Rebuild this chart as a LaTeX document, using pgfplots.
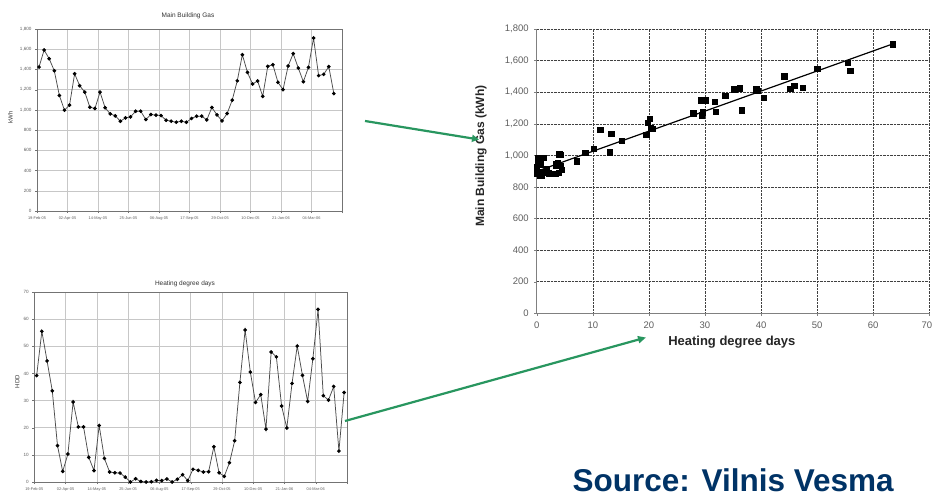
\documentclass[border=0pt]{standalone}
\usepackage{fontspec}
\setmainfont{Liberation Sans}
\usepackage{pgfplots}
\usepackage{pgfplotstable}
\pgfplotsset{compat=1.18}
\usetikzlibrary{arrows.meta}
\definecolor{arrowgreen}{RGB}{40,150,95}
\definecolor{srcblue}{RGB}{0,51,102}
\definecolor{lblgray}{RGB}{95,95,95}

\pgfplotstableread{
x y
0.4 1424
1.4 1592
2.4 1506
3.4 1387
4.4 1143
5.4 997
6.4 1047
7.4 1357
8.4 1239
9.4 1176
10.4 1027
11.4 1014
12.4 1176
13.4 1021
14.4 961
15.4 941
16.4 888
17.4 921
18.4 931
19.4 987
20.4 987
21.4 905
22.4 954
23.4 948
24.4 944
25.4 898
26.4 888
27.4 878
28.4 888
29.4 878
30.4 915
31.4 938
32.4 938
33.4 901
34.4 1024
35.4 951
36.4 891
37.4 964
38.4 1096
39.4 1288
40.4 1546
41.4 1371
42.4 1256
43.4 1286
44.4 1134
45.4 1431
46.4 1447
47.4 1273
48.4 1200
49.4 1434
50.4 1556
51.4 1414
52.4 1279
53.4 1421
54.4 1711
55.4 1339
56.4 1352
57.4 1428
58.4 1161
}\gasdata

\pgfplotstableread{
x y
0.45 39.2
1.45 55.5
2.45 44.6
3.45 33.6
4.45 13.4
5.45 3.9
6.45 10.3
7.45 29.5
8.45 20.3
9.45 20.3
10.45 9.1
11.45 4.2
12.45 20.8
13.45 8.7
14.45 3.7
15.45 3.4
16.45 3.3
17.45 1.8
18.45 0
19.45 1.2
20.45 0.2
21.45 0
22.45 0.1
23.45 0.6
24.45 0.5
25.45 1.1
26.45 0
27.45 1.0
28.45 2.7
29.45 0.5
30.45 4.7
31.45 4.3
32.45 3.7
33.45 3.8
34.45 13.0
35.45 3.4
36.45 2.1
37.45 7.1
38.45 15.2
39.45 36.7
40.45 56.0
41.45 40.5
42.45 29.3
43.45 32.2
44.45 19.5
45.45 47.9
46.45 46.1
47.45 28.0
48.45 19.9
49.45 36.3
50.45 50.1
51.45 39.3
52.45 29.7
53.45 45.4
54.45 63.6
55.45 31.8
56.45 30.2
57.45 35.2
58.45 11.4
59.45 33.0
}\hdddata

\pgfplotstableread{
x y
39.1 1418
55.5 1586
44.1 1500
33.6 1376
13.3 1137
4.2 1004
10.2 1042
29.2 1350
20.1 1232
20.3 1172
8.7 1017
4.0 1008
20.6 1169
8.6 1015
3.7 955
3.4 936
3.3 884
1.8 916
0.0 926
1.3 984
0.2 981
0.0 900
0.3 939
0.6 944
0.5 940
1.1 893
0.0 884
0.8 874
2.7 884
0.5 874
4.5 911
4.3 933
3.7 933
3.9 892
13.0 1019
3.4 947
2.1 887
7.1 962
15.2 1091
36.5 1287
55.9 1536
40.5 1365
29.4 1255
31.9 1278
19.5 1131
47.4 1430
45.9 1441
27.9 1266
19.8 1205
36.2 1426
50.0 1549
39.3 1410
29.6 1272
45.2 1422
63.5 1705
31.7 1338
30.1 1350
35.2 1420
11.3 1162
}\scatterdata

\begin{document}
\begin{tikzpicture}
\useasboundingbox (0pt,0pt) rectangle (933pt,496pt);
\fill[white] (0pt,0pt) rectangle (933pt,496pt);

% ---------- Main Building Gas (top left) ----------
\begin{axis}[
  at={(37pt,285pt)}, anchor=south west, scale only axis,
  width=305pt, height=182pt,
  xmin=0, xmax=60, ymin=0, ymax=1800,
  xtick={0,6,...,60},
  xticklabels={19-Feb-05,02-Apr-05,14-May-05,25-Jun-05,06-Aug-05,17-Sep-05,29-Oct-05,10-Dec-05,21-Jan-06,04-Mar-06,{}},
  ytick={0,200,...,1800},
  grid=major, grid style={black!22, line width=0.5pt},
  axis line style={black!55, line width=0.5pt},
  tick style={black!55}, tick align=outside, major tick length=2pt, tick pos=left,
  xticklabel style={font=\fontsize{3.9}{4}\selectfont, text=lblgray, yshift=0pt},
  yticklabel style={font=\fontsize{4.6}{5}\selectfont, text=lblgray, xshift=0pt},
  scaled y ticks=false,
  /pgf/number format/assume math mode=true,
  /pgf/number format/1000 sep={,},
  title={Main Building Gas},
  title style={font=\fontsize{6.5}{7}\selectfont, text=black!80, at={(axis description cs:0.495,1.04)}, anchor=center},
  ylabel={kWh},
  ylabel style={font=\fontsize{6}{7}\selectfont, text=black!80, at={(axis description cs:-0.087,0.516)}, anchor=center},
]
\addplot[black!70, line width=0.75pt, mark=*, mark size=1.45pt, mark options={fill=black, draw=black}] table[x=x,y=y] {\gasdata};
\end{axis}

% ---------- Heating degree days (bottom left) ----------
\begin{axis}[
  at={(34.3pt,14pt)}, anchor=south west, scale only axis,
  width=312.7pt, height=190pt,
  xmin=0, xmax=60, ymin=0, ymax=70,
  xtick={0,6,...,60},
  xticklabels={19-Feb-05,02-Apr-05,14-May-05,25-Jun-05,06-Aug-05,17-Sep-05,29-Oct-05,10-Dec-05,21-Jan-06,04-Mar-06,{}},
  ytick={0,10,...,70},
  grid=major, grid style={black!22, line width=0.5pt},
  axis line style={black!55, line width=0.5pt},
  tick style={black!55}, tick align=outside, major tick length=2pt, tick pos=left,
  xticklabel style={font=\fontsize{3.9}{4}\selectfont, text=lblgray, yshift=0pt},
  yticklabel style={font=\fontsize{4.6}{5}\selectfont, text=lblgray, xshift=0pt},
  /pgf/number format/assume math mode=true,
  title={Heating degree days},
  title style={font=\fontsize{6.5}{7}\selectfont, text=black!80, at={(axis description cs:0.482,1.014)}, anchor=center},
  ylabel={HDD},
  ylabel style={font=\fontsize{6}{7}\selectfont, text=black!80, at={(axis description cs:-0.054,0.528)}, anchor=center},
]
\addplot[black!70, line width=0.75pt, mark=*, mark size=1.45pt, mark options={fill=black, draw=black}] table[x=x,y=y] {\hdddata};
\end{axis}

% ---------- Scatter (right) ----------
\begin{axis}[
  at={(536.7pt,182.7pt)}, anchor=south west, scale only axis,
  width=392.6pt, height=284.3pt,
  xmin=0, xmax=70, ymin=0, ymax=1800,
  xtick={0,10,...,70}, ytick={0,200,...,1800},
  xticklabels={0,10,20,30,40,50,60,{\hspace*{-5pt}70}},
  axis lines=left, axis line style={-, black!50, line width=0.8pt},
  grid=major, grid style={densely dotted, black!75, line width=0.5pt},
  tick style={black!50}, tick align=outside, major tick length=2.5pt,
  ticklabel style={font=\fontsize{9.5}{11}\selectfont, text=lblgray},
  xticklabel style={yshift=-2.5pt},
  yticklabel style={xshift=-2pt},
  scaled y ticks=false,
  /pgf/number format/assume math mode=true,
  /pgf/number format/1000 sep={,},
  xlabel={Heating degree days},
  xlabel style={font=\bfseries\fontsize{13}{15}\selectfont, text=black!85, at={(axis description cs:0.497,-0.1115)}, anchor=base},
  ylabel={Main Building Gas (kWh)},
  ylabel style={font=\bfseries\fontsize{12}{14}\selectfont, text=black!85, at={(axis description cs:-0.142,0.553)}, anchor=center},
]
\addplot[only marks, mark=square*, mark size=2.7pt, mark options={fill=black, draw=black}] table[x=x,y=y] {\scatterdata};
\addplot[black, line width=1.2pt] coordinates {(0,899) (63.6,1707)};
\end{axis}

% ---------- arrows ----------
\draw[arrowgreen, line width=2.2pt, -{Triangle[length=7pt,width=7pt]}] (365pt,375pt) -- (479pt,356.5pt);
\draw[arrowgreen, line width=2.2pt, -{Triangle[length=8pt,width=7pt]}] (345pt,75pt) -- (646pt,158.5pt);

% ---------- source ----------
\node[anchor=base west, inner sep=0pt, font=\bfseries\fontsize{31.5}{36}\selectfont, text=srcblue] at (572.5pt,5pt) {Source: Vilnis Vesma};
\end{tikzpicture}
\end{document}
